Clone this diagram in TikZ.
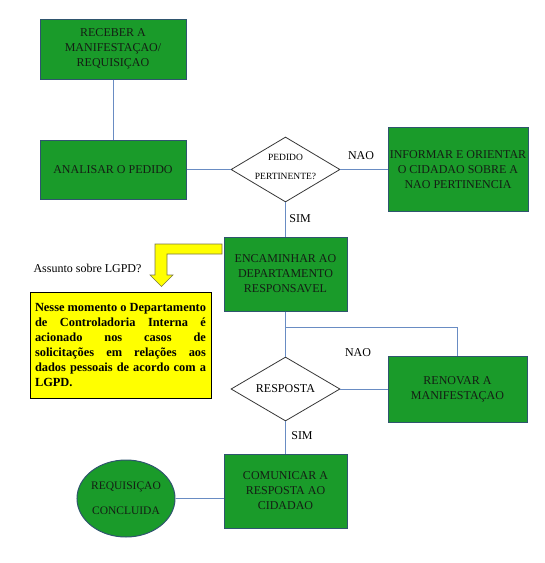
\documentclass[tikz,border=0pt]{standalone}
\usepackage{fontspec}
\setmainfont{Liberation Serif}
\usetikzlibrary{shapes.geometric}
\definecolor{boxgreen}{RGB}{26,155,42}
\definecolor{boxedge}{RGB}{47,85,110}
\definecolor{connc}{RGB}{105,140,195}
\definecolor{diaedge}{RGB}{55,55,55}
\definecolor{txt}{RGB}{20,30,20}
\definecolor{yel}{RGB}{255,255,0}
\begin{document}
\begin{tikzpicture}[x=1pt,y=-1pt,
  gbox/.style={draw=boxedge, line width=1pt, fill=boxgreen, inner sep=0pt, align=center,
    font=\fontsize{12}{15}\selectfont, text=txt},
  dia/.style={draw=diaedge, line width=0.8pt, fill=white, shape=diamond, inner sep=0pt},
  oval/.style={draw=boxedge, line width=1pt, fill=boxgreen, shape=ellipse, inner sep=0pt},
  conn/.style={draw=connc, line width=1pt},
  lbl/.style={font=\fontsize{12}{14}\selectfont, inner sep=0pt},
  ybox/.style={draw=black, line width=1pt, fill=yel, inner xsep=4.5pt, align=left,
    font=\fontsize{12.4}{15}\selectfont\bfseries},
  yarrow/.style={draw=black!60!yellow, line width=0.6pt, fill=yel}
]
\useasboundingbox (0,0) rectangle (545,563);

% boxes
\node[gbox, minimum width=146pt, minimum height=60pt] (rec) at (113,49) {RECEBER A\\MANIFESTAÇAO/\\REQUISIÇAO};
\node[gbox, minimum width=146pt, minimum height=59pt] (ana) at (113,169.5) {ANALISAR O PEDIDO};
\node[dia, minimum width=109pt, minimum height=65pt] (ped) at (285.5,169.5) {};
\node[font=\fontsize{9.5}{19}\selectfont, align=center, inner sep=0pt] (pedt) at ([yshift=3pt]ped.center) {PEDIDO\\PERTINENTE?};
\node[gbox, minimum width=140pt, minimum height=84pt] (inf) at (458,169.5) {INFORMAR E ORIENTAR\\O CIDADAO SOBRE A\\NAO PERTINENCIA};
\node[gbox, minimum width=123pt, minimum height=74pt] (enc) at (285.5,274) {ENCAMINHAR AO\\DEPARTAMENTO\\RESPONSAVEL};
\node[dia, minimum width=109pt, minimum height=64pt] (res) at (285.5,389) {};
\node[font=\fontsize{12}{14}\selectfont, inner sep=0pt] (rest) at (res.center) {RESPOSTA};
\node[gbox, minimum width=139pt, minimum height=66pt] (ren) at (457.5,389) {RENOVAR A\\MANIFESTAÇAO};
\node[gbox, minimum width=123pt, minimum height=74pt] (com) at (285.5,491) {COMUNICAR A\\RESPOSTA AO\\CIDADAO};
\node[oval, minimum width=98pt, minimum height=77pt] (ell) at (126,498.5) {};
\node[font=\fontsize{11.5}{25}\selectfont, align=center, inner sep=0pt, text=txt] (ellt) at (ell.center) {REQUISIÇAO\\CONCLUIDA};

% yellow note
\draw[yarrow] (222,244) -- (155,244) -- (155,275) -- (150,275) -- (161.5,286.5) -- (173,275) -- (167,275) -- (167,254) -- (222,254) -- cycle;
\node[lbl] (ask) at (87.5,268) {Assunto sobre LGPD?};
\node[ybox, minimum width=181pt, minimum height=106pt] (lgpd) at (120.5,345) {%
\makebox[171pt][s]{Nesse momento o Departamento}\\
\makebox[171pt][s]{de Controladoria Interna é}\\
\makebox[171pt][s]{acionado nos casos de}\\
\makebox[171pt][s]{solicitações em relações aos}\\
\makebox[171pt][s]{dados pessoais de acordo com a}\\
LGPD.};

% connectors
\draw[conn] (rec.south) -- (ana.north);
\draw[conn] (ana.east) -- (ped.west);
\draw[conn] (ped.east) -- (inf.west);
\draw[conn] (ped.south) -- (enc.north);
\draw[conn] (enc.south) -- (res.north);
\coordinate (j) at (285.5,327);
\draw[conn] (j) -| (ren.north);
\draw[conn] (res.east) -- (ren.west);
\draw[conn] (res.south) -- (com.north);
\draw[conn] (ell.east) -- (ell.east -| com.west);

% labels
\node[lbl] (nao1) at (361,156) {NAO};
\node[lbl] (sim1) at (300,219) {SIM};
\node[lbl] (nao2) at (358,353) {NAO};
\node[lbl] (sim2) at (302,436) {SIM};
\end{tikzpicture}
\end{document}
